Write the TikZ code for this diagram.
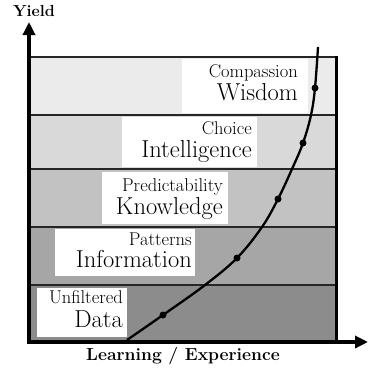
\documentclass[tikz,border=0pt]{standalone}
\usepackage{fontspec}
\usetikzlibrary{arrows.meta}
\begin{document}
\begin{tikzpicture}[x=1pt,y=1pt,
  small/.style={anchor=base east, inner sep=0pt, font=\fontsize{18.5}{18.5}\selectfont},
  big/.style={anchor=base east, inner sep=0pt, font=\fontsize{24.5}{24.5}\selectfont},
  bandline/.style={line width=1.6pt, draw=black!85},
  whitebox/.style={fill=white, draw=none},
  axis/.style={line width=4pt, -{Triangle[length=13pt,width=12pt]}},
  dot/.style={circle, fill=black, inner sep=0pt, minimum size=7pt},
  axislabel/.style={inner sep=0pt, font=\bfseries\fontsize{16}{16}\selectfont\addfontfeatures{LetterSpace=14}},
  xaxislabel/.style={inner sep=0pt, font=\bfseries\fontsize{17.5}{17.5}\selectfont\addfontfeatures{LetterSpace=14}}]
\useasboundingbox (0,0) rectangle (369,-367);
% bands
\fill[black!8]  (31,-57)  rectangle (336,-115);
\fill[black!15] (31,-115) rectangle (336,-169);
\fill[black!24] (31,-169) rectangle (336,-227);
\fill[black!35] (31,-227) rectangle (336,-285);
\fill[black!45] (31,-285) rectangle (336,-341);
% white label boxes
\fill[whitebox] (182,-59)  rectangle (308,-113);
\fill[whitebox] (122,-117) rectangle (257,-167);
\fill[whitebox] (102,-172) rectangle (228,-224);
\fill[whitebox] (55,-229)  rectangle (195,-276);
\fill[whitebox] (37,-288)  rectangle (127,-337);
% band lines
\draw[bandline] (31,-57) -- (336,-57);
\draw[bandline] (31,-115) -- (336,-115);
\draw[bandline] (31,-169) -- (336,-169);
\draw[bandline] (31,-227) -- (336,-227);
\draw[bandline] (31,-285) -- (336,-285);
\draw[line width=3pt] (336,-56) -- (336,-342);
% labels
\node[small] (compassion) at (298,-77) {Compassion};
\node[big] (wisdom) at (298,-100) {Wisdom};
\node[small] (choice) at (252,-134) {Choice};
\node[big] (intelligence) at (252,-157) {Intelligence};
\node[small] (predict) at (223,-191) {Predictability};
\node[big] (knowledge) at (223,-214) {Knowledge};
\node[small] (patterns) at (192,-245) {Patterns};
\node[big] (information) at (192,-267) {Information};
\node[small] (unfiltered) at (123,-303) {Unfiltered};
\node[big] (data) at (123,-327) {Data};
% curve
\coordinate (c0) at (127,-340);
\coordinate (c1) at (163,-315);
\coordinate (c2) at (205,-285);
\coordinate (c3) at (237,-258);
\coordinate (c4) at (262,-227);
\coordinate (c5) at (278,-199);
\coordinate (c6) at (292,-169);
\coordinate (c7) at (303,-143);
\coordinate (c8) at (311,-115);
\coordinate (c9) at (315,-88);
\coordinate (c10) at (318,-47);
\draw[line width=2.3pt] plot[smooth, tension=0.6] coordinates {(c0) (c1) (c2) (c3) (c4) (c5) (c6) (c7) (c8) (c9) (c10)};
\node[dot] (d1) at (c1) {};
\node[dot] (d2) at (c3) {};
\node[dot] (d3) at (c5) {};
\node[dot] (d4) at (c7) {};
\node[dot] (d5) at (c9) {};
% axes
\coordinate (ytop) at (29,-22);
\coordinate (xend) at (368,-342);
\draw[axis] (29,-344) -- (ytop);
\draw[axis] (27,-342) -- (xend);
\node[axislabel, anchor=base] (yield) at (34,-16) {Yield};
\node[xaxislabel, anchor=base] (xlabel) at (183,-360) {Learning / Experience};
\end{tikzpicture}
\end{document}
